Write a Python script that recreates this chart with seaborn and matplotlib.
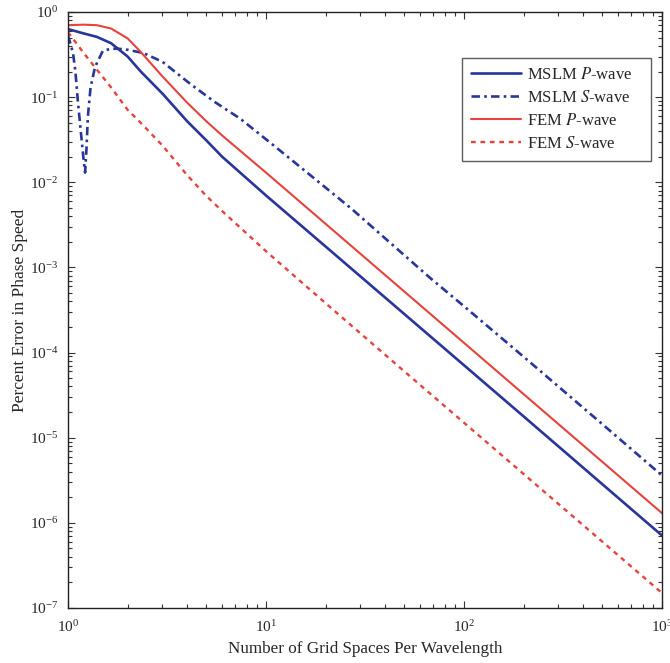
import numpy as np
import pandas as pd
import matplotlib
matplotlib.use("Agg")
import matplotlib.pyplot as plt
import seaborn as sns

# ---- data ----
x_main = [1.0, 1.2, 1.4, 1.65, 2.0, 2.33, 3.0, 4.0, 5.0, 6.0, 10, 20, 50, 100, 200, 500, 1000]
mslm_p = [0.63, 0.56, 0.51, 0.43, 0.30, 0.20, 0.11, 0.052, 0.031, 0.020, 7.0e-3, 1.76e-3,
          2.83e-4, 7.1e-5, 1.78e-5, 2.84e-6, 7.1e-7]
fem_p = [0.70, 0.71, 0.70, 0.64, 0.49, 0.34, 0.175, 0.086, 0.052, 0.0355, 1.3e-2, 3.25e-3,
         5.2e-4, 1.3e-4, 3.25e-5, 5.2e-6, 1.3e-6]
fem_s = [0.58, 0.33, 0.21, 0.13, 0.071, 0.050, 0.027, 0.0121, 6.9e-3, 4.6e-3, 1.55e-3,
         3.8e-4, 6.0e-5, 1.5e-5, 3.75e-6, 6.0e-7, 1.5e-7]

x_mslm_s = [1.0, 1.03, 1.06, 1.09, 1.12, 1.16, 1.2, 1.22, 1.24, 1.26, 1.3, 1.37,
            1.5, 1.65, 1.8, 2.0, 2.4, 3.0, 4.13, 5.5, 7.4, 10, 13.2, 27, 68, 100,
            217, 500, 1000]
mslm_s = [0.53, 0.42, 0.33, 0.20, 0.093, 0.040, 0.018, 0.013, 0.025, 0.059, 0.13,
          0.227, 0.35, 0.37, 0.37, 0.36, 0.33, 0.26, 0.144, 0.088, 0.056, 0.032,
          0.0190, 4.9e-3, 7.4e-4, 3.5e-4, 7.6e-5, 1.44e-5, 3.6e-6]

labels = ["MSLM $P$-wave", "MSLM $S$-wave", "FEM $P$-wave", "FEM $S$-wave"]

# ---- style ----
sns.set_style("ticks")
plt.rcParams["font.family"] = ["Liberation Serif", "DejaVu Serif"]
plt.rcParams["mathtext.fontset"] = "stix"
plt.rcParams["xtick.direction"] = "in"
plt.rcParams["ytick.direction"] = "in"

blue = "#28359a"
red = "#e8423c"

fig = plt.figure(figsize=(6.70, 6.63), dpi=100)
ax = fig.add_axes([68 / 670, 1 - 608 / 663, 594 / 670, 596 / 663])

df_p = pd.DataFrame({"x": x_main, "mslm_p": mslm_p, "fem_p": fem_p, "fem_s": fem_s})
df_s = pd.DataFrame({"x": x_mslm_s, "mslm_s": mslm_s})

pad = "\u2002\u2002"
sns.lineplot(data=df_p, x="x", y="mslm_p", ax=ax, color=blue, lw=1.9,
             linestyle="-", label=labels[0] + pad, estimator=None)
sns.lineplot(data=df_s, x="x", y="mslm_s", ax=ax, color=blue, lw=1.9,
             linestyle=(0, (3.2, 1.6, 1.0, 1.6)), label=labels[1] + pad, estimator=None)
sns.lineplot(data=df_p, x="x", y="fem_p", ax=ax, color=red, lw=1.5,
             linestyle="-", label=labels[2] + pad, estimator=None)
sns.lineplot(data=df_p, x="x", y="fem_s", ax=ax, color=red, lw=1.7,
             linestyle=(0, (2.0, 2.0)), label=labels[3] + pad, estimator=None)

ax.set_xscale("log")
ax.set_yscale("log")
ax.set_xlim(1, 1000)
ax.set_ylim(1e-7, 1)

ax.tick_params(which="both", top=True, right=True, labelsize=11, color="#333333",
               width=0.8)
ax.tick_params(which="major", length=5)
ax.tick_params(axis="x", which="major", pad=8)
ax.tick_params(axis="y", which="major", pad=7)
ax.tick_params(which="minor", length=3)
for s in ax.spines.values():
    s.set_color("#222222")
    s.set_linewidth(1.0)

ax.set_xlabel("Number of Grid Spaces Per Wavelength", fontsize=12.3, labelpad=4)
ax.set_ylabel("Percent Error in Phase Speed", fontsize=12.5, labelpad=1)

leg = ax.legend(loc="upper right", bbox_to_anchor=(0.981, 0.923), borderaxespad=0,
                fancybox=False, frameon=True, edgecolor="#333333", fontsize=12,
                handlelength=3.0, handletextpad=0.4, labelspacing=0.42,
                borderpad=0.55)
leg.get_frame().set_linewidth(1.0)

fig.savefig("out.png", dpi=100)
